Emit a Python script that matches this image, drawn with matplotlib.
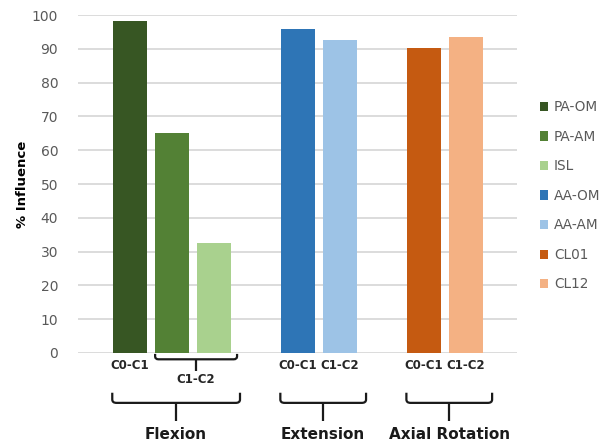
import matplotlib
matplotlib.use('Agg')
import matplotlib.pyplot as plt
from matplotlib.path import Path
from matplotlib.patches import PathPatch, Patch

# data
groups = ['Flexion', 'Extension', 'Axial Rotation']
group_series = [['PA-OM', 'PA-AM', 'ISL'], ['AA-OM', 'AA-AM'], ['CL01', 'CL12']]
group_values = [[98.3, 65.0, 32.6], [95.9, 92.6], [90.3, 93.4]]
group_colors = [['#375623', '#538135', '#A9D18E'],
                ['#2E75B6', '#9DC3E6'],
                ['#C55A11', '#F4B183']]
sub_labels = [['C0-C1', 'C1-C2'], ['C0-C1', 'C1-C2'], ['C0-C1', 'C1-C2']]
yticks = [0, 10, 20, 30, 40, 50, 60, 70, 80, 90, 100]

plt.rcParams['font.family'] = 'DejaVu Sans'
fig = plt.figure(figsize=(6.11, 4.45), dpi=100)
ax = fig.add_axes([0.127, 0.207, 0.719, 0.759])

grey = '#595959'
for y in yticks:
    ax.axhline(y, color='#D9D9D9', lw=1.3, zorder=0)

# bar positions: one empty slot between groups
positions = []
pos = 0
for s in group_series:
    p = list(range(pos, pos + len(s)))
    positions.append(p)
    pos = p[-1] + 2

handles = []
for p, names, vals, cols in zip(positions, group_series, group_values, group_colors):
    for x, n, v, c in zip(p, names, vals, cols):
        ax.bar(x, v, width=0.79, color=c, zorder=2)
        handles.append(Patch(facecolor=c, label=n))

ax.set_xlim(-1.245, 9.21)
ax.set_ylim(0, 100)
ax.set_yticks(yticks)
ax.set_xticks([])
ax.tick_params(axis='y', length=0, labelsize=10, labelcolor=grey, pad=14)
for sp in ax.spines.values():
    sp.set_visible(False)
ax.set_ylabel('% Influence', fontsize=9.5, fontweight='bold', labelpad=2)


def bracket(x0, x1, ytop, yh, ybot, rx, ry, lw=1.6):
    xm = (x0 + x1) / 2
    verts = [(x0, ytop), (x0, yh + ry), (x0, yh), (x0 + rx, yh),
             (x1 - rx, yh), (x1, yh), (x1, yh + ry), (x1, ytop)]
    codes = [Path.MOVETO, Path.LINETO, Path.CURVE3, Path.CURVE3,
             Path.LINETO, Path.CURVE3, Path.CURVE3, Path.LINETO]
    ax.add_patch(PathPatch(Path(verts, codes), fill=False, lw=lw,
                           edgecolor='#1a1a1a', clip_on=False))
    ax.plot([xm, xm], [yh, ybot], color='#1a1a1a', lw=lw, clip_on=False,
            solid_capstyle='butt')
    return xm


lab_kw = dict(ha='center', va='center', fontsize=8.5, fontweight='bold',
              color='#262626', clip_on=False)
for gi, (p, g, subs) in enumerate(zip(positions, groups, sub_labels)):
    if len(p) == 3:
        ax.text(p[0], -3.6, subs[0], **lab_kw)
        xm = bracket(p[1] - 0.4, p[2] + 0.55, -0.3, -1.9, -5.5, 0.08, 0.9)
        ax.text(xm, -7.8, subs[1], **lab_kw)
    else:
        ax.text(p[0], -3.6, subs[0], **lab_kw)
        ax.text(p[1], -3.6, subs[1], **lab_kw)
    xm = bracket(p[0] - 0.42, p[-1] + 0.62, -11.8, -14.8, -20.3, 0.1, 1.0)
    ax.text(xm, -24.2, g, ha='center', va='center', fontsize=11,
            fontweight='bold', color='#1a1a1a', clip_on=False)

leg = fig.legend(handles=handles, loc='upper left',
                 bbox_to_anchor=(0.872, 0.79), frameon=False,
                 fontsize=9.8, labelspacing=1.14, handlelength=0.65,
                 handleheight=0.65, handletextpad=0.4, borderpad=0)
for t in leg.get_texts():
    t.set_color(grey)

fig.savefig('out.png', dpi=100)
